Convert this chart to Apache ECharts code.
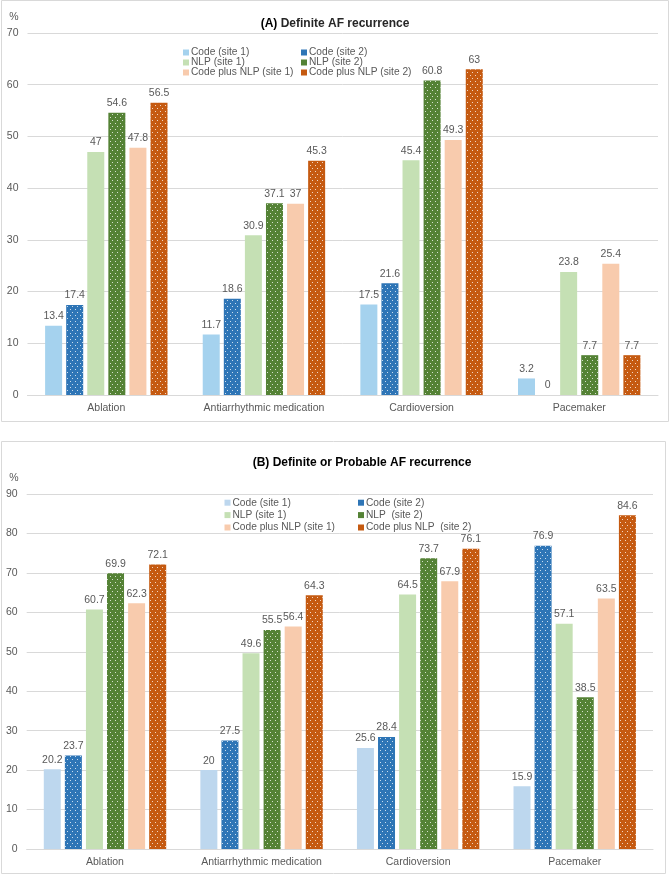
<!DOCTYPE html>
<html>
<head>
<meta charset="utf-8">
<script src="https://cdn.jsdelivr.net/npm/echarts@6/dist/echarts.min.js"></script>
<style>
  html, body { margin: 0; padding: 0; background: #fff; }
  #a { position: absolute; left: 0; top: 0; width: 670px; height: 432px; }
  #b { position: absolute; left: 0; top: 435px; width: 670px; height: 444px; }
</style>
</head>
<body>
<div id="a"></div>
<div id="b"></div>
<script>
// ---- data ----
const categories = ['Ablation', 'Antiarrhythmic medication', 'Cardioversion', 'Pacemaker'];

const namesA = ['Code (site 1)', 'Code (site 2)', 'NLP (site 1)', 'NLP (site 2)', 'Code plus NLP (site 1)', 'Code plus NLP (site 2)'];
const namesB = ['Code (site 1)', 'Code (site 2)', 'NLP (site 1)', 'NLP  (site 2)', 'Code plus NLP (site 1)', 'Code plus NLP  (site 2)'];

// (A) Definite AF recurrence
const codeSite1A = [13.4, 11.7, 17.5, 3.2];
const codeSite2A = [17.4, 18.6, 21.6, 0];
const nlpSite1A = [47, 30.9, 45.4, 23.8];
const nlpSite2A = [54.6, 37.1, 60.8, 7.7];
const bothSite1A = [47.8, 37, 49.3, 25.4];
const bothSite2A = [56.5, 45.3, 63, 7.7];

// (B) Definite or Probable AF recurrence
const codeSite1B = [20.2, 20, 25.6, 15.9];
const codeSite2B = [23.7, 27.5, 28.4, 76.9];
const nlpSite1B = [60.7, 49.6, 64.5, 57.1];
const nlpSite2B = [69.9, 55.5, 73.7, 38.5];
const bothSite1B = [62.3, 56.4, 67.9, 63.5];
const bothSite2B = [72.1, 64.3, 76.1, 84.6];

const yTicksA = { min: 0, max: 70, interval: 10 };
const yTicksB = { min: 0, max: 90, interval: 10 };

// ---- styles ----
const colorsA = ['#A5D2EE', '#2E75B6', '#C5E0B4', '#548235', '#F8CBAD', '#C55A11'];
const colorsB = ['#BDD7EE', '#2E75B6', '#C5E0B4', '#548235', '#F8CBAD', '#C55A11'];
const dotted = [false, true, false, true, false, true];
const FONT = 'Liberation Sans, Arial, sans-serif';
const TXT = '#595959';

const decal = {
  symbol: 'rect',
  symbolSize: 1,
  dashArrayX: [[1, 4], [0, 2, 1, 2]],
  dashArrayY: [1, 2],
  color: 'rgba(255,255,255,0.75)'
};

function build(opts) {
  const seriesData = opts.data;
  const series = seriesData.map((d, i) => ({
    name: opts.names[i],
    type: 'bar',
    data: d,
    barWidth: 17,
    barGap: '24%',
    itemStyle: Object.assign({ color: opts.colors[i] }, dotted[i] ? { decal: decal } : {}),
    label: {
      show: true,
      position: 'top',
      distance: 4,
      color: TXT,
      fontSize: 10.5,
      fontFamily: FONT,
      formatter: p => String(p.value)
    },
    emphasis: { disabled: true }
  }));
  const legendCol = (idxs, left, top, gap) => ({
    orient: 'vertical',
    left: left,
    top: top,
    padding: 0,
    itemGap: 0,
    itemWidth: 6,
    itemHeight: 6,
    icon: 'rect',
    selectedMode: false,
    textStyle: { fontSize: 10.2, fontFamily: FONT, color: TXT, lineHeight: gap, padding: [0, 0, 0, -3] },
    data: idxs.map(i => ({ name: opts.names[i], itemStyle: { decal: 'none' } }))
  });
  return {
    animation: false,
    textStyle: { fontFamily: FONT },
    grid: { left: opts.grid.left, top: opts.grid.top, width: opts.grid.width, height: opts.grid.height },
    legend: [
      legendCol([0, 2, 4], opts.legend.left1, opts.legend.top, opts.legend.gap),
      legendCol([1, 3, 5], opts.legend.left2, opts.legend.top, opts.legend.gap)
    ],
    xAxis: {
      type: 'category',
      data: categories,
      axisLine: { lineStyle: { color: '#D9D9D9' } },
      axisTick: { show: false },
      axisLabel: { color: TXT, fontSize: 10.5, fontFamily: FONT, margin: 8, interval: 0 }
    },
    yAxis: {
      type: 'value',
      min: opts.ticks.min,
      max: opts.ticks.max,
      interval: opts.ticks.interval,
      axisLine: { show: false },
      axisTick: { show: false },
      splitLine: { lineStyle: { color: '#D9D9D9' } },
      axisLabel: { color: TXT, fontSize: 10.5, fontFamily: FONT, margin: 9 }
    },
    graphic: [
      { type: 'rect', shape: opts.border, style: { fill: 'none', stroke: '#D9D9D9', lineWidth: 1 }, silent: true },
      { type: 'text', x: opts.pct.x, y: opts.pct.y, style: { text: '%', fill: TXT, font: '10.5px ' + FONT, align: 'center', verticalAlign: 'middle' } },
      {
        type: 'text', x: opts.title.x, y: opts.title.y,
        style: {
          text: opts.title.text,
          align: 'center', verticalAlign: 'middle',
          rich: {
            a: { fill: '#000', font: 'bold 12px ' + FONT },
            b: { fill: opts.title.color, font: 'bold 12px ' + FONT }
          }
        }
      }
    ],
    series: series
  };
}

const chartA = echarts.init(document.getElementById('a'), null, { renderer: 'canvas' });
chartA.setOption(build({
  names: namesA,
  colors: colorsA,
  data: [codeSite1A, codeSite2A, nlpSite1A, nlpSite2A, bothSite1A, bothSite2A],
  ticks: yTicksA,
  grid: { left: 27.5, top: 33, width: 630.5, height: 362 },
  legend: { left1: 183, left2: 301, top: 47.5, gap: 10 },
  border: { x: 1.5, y: 0.5, width: 667, height: 421 },
  pct: { x: 14, y: 17 },
  title: { x: 335, y: 24, text: '{a|(A)}{b| Definite AF recurrence}', color: '#262626' }
}));

const chartB = echarts.init(document.getElementById('b'), null, { renderer: 'canvas' });
chartB.setOption(build({
  names: namesB,
  colors: colorsB,
  data: [codeSite1B, codeSite2B, nlpSite1B, nlpSite2B, bothSite1B, bothSite2B],
  ticks: yTicksB,
  grid: { left: 26.7, top: 59, width: 626.3, height: 355 },
  legend: { left1: 224.5, left2: 358, top: 61.5, gap: 12.4 },
  border: { x: 1.5, y: 6.5, width: 664, height: 432 },
  pct: { x: 14, y: 43 },
  title: { x: 362, y: 28, text: '{a|(B)}{a| Definite or Probable AF recurrence}', color: '#000' }
}));
</script>
</body>
</html>
